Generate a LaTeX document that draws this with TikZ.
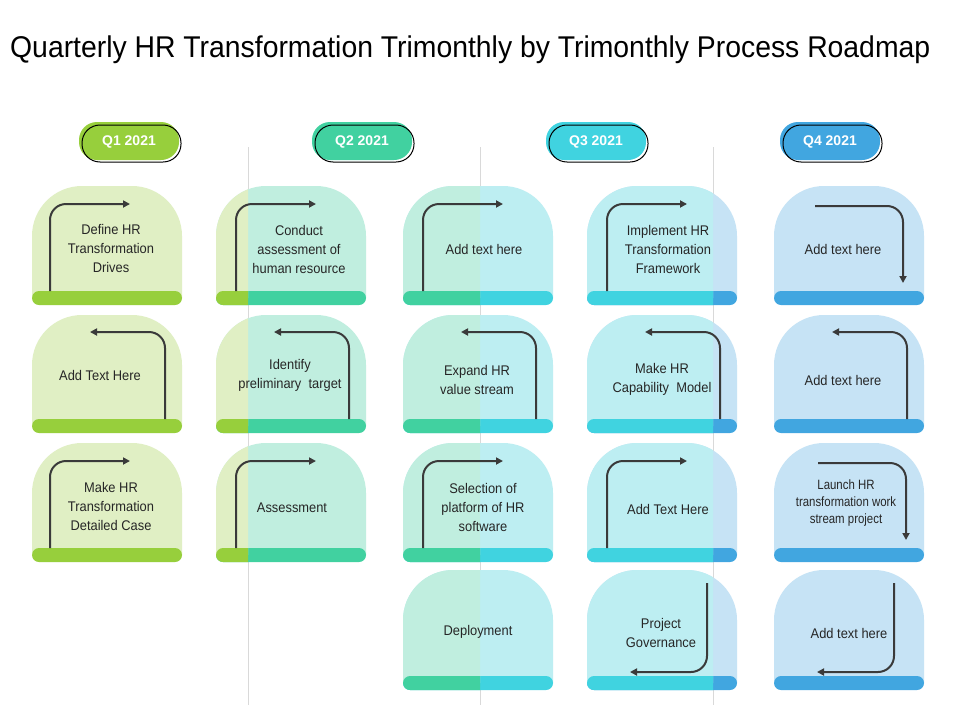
\documentclass[tikz,border=0pt]{standalone}
\usepackage{fontspec}
\setmainfont{Liberation Sans}
\usetikzlibrary{arrows.meta}
\definecolor{gD}{HTML}{97CF3C}\definecolor{gL}{HTML}{E0EFC4}
\definecolor{tD}{HTML}{41D1A0}\definecolor{tL}{HTML}{C0EEDF}
\definecolor{cD}{HTML}{40D3E0}\definecolor{cL}{HTML}{BDEEF2}
\definecolor{bD}{HTML}{41A6E0}\definecolor{bL}{HTML}{C6E3F5}
\definecolor{arr}{HTML}{3A3A3A}
\newcommand\cardshape[5]{% x0 y0 bar light dark
  \fill[#4] (#1,{#3+7}) -- (#1,{#2+50}) arc[start angle=180,end angle=270,radius=50] -- ({#1+100},#2) arc[start angle=270,end angle=360,radius=50] -- ({#1+150},{#3+7}) -- cycle;
  \fill[#5,rounded corners=7] (#1,#3) rectangle ({#1+150},{#3+14});}
\newcommand\card[8]{% x0 y0 bar Ll Ld Rl Rd split
  \cardshape{#1}{#2}{#3}{#6}{#7}
  \begin{scope}\clip (#1,0) rectangle (#8,720);\cardshape{#1}{#2}{#3}{#4}{#5}\end{scope}}
\newcommand\arrA[4]{\draw[ar] ({#1+#4},#3) -- ({#1+#4},{#2+18}) -- ({#1+#4+80},{#2+18});}
\newcommand\arrB[3]{\draw[ar] ({#1+133},#3) -- ({#1+133},{#2+17}) -- ({#1+58},{#2+17});}
\newcommand\arrC[4]{\draw[ar] ({#1+#4},{#2+20}) -- ({#1+#4+88},{#2+20}) -- ({#1+#4+88},{#3-8});}
\newcommand\arrD[3]{\draw[ar] ({#1+120},{#2+13}) -- ({#1+120},{#3-4}) -- ({#1+43},{#3-4});}
\begin{document}
\begin{tikzpicture}[x=1pt,y=-1pt,
  ar/.style={draw=arr,line width=2pt,rounded corners=16,-{Triangle[length=7pt,width=7pt]}},
  lbl/.style={align=center,font=\fontsize{14}{19}\selectfont,text=black!85,xscale=0.92},
  pill/.style={rounded corners=18,line width=1pt}]
\useasboundingbox (0,0) rectangle (960,720);
\fill[white] (0,0) rectangle (960,720);
\node[anchor=west,font=\fontsize{30}{34}\selectfont,xscale=0.945,inner sep=0pt] (title) at (10,50) {Quarterly HR Transformation Trimonthly by Trimonthly Process Roadmap};
\foreach \x in {248,480,713} \draw[black!15,line width=0.8pt] (\x,147) -- (\x,705);
% pills
\foreach \cx/\c/\t [count=\i] in {129/gD/Q1 2021,362/tD/Q2 2021,596/cD/Q3 2021,830/bD/Q4 2021}{
  \fill[\c,pill] ({\cx-50},122) rectangle ({\cx+50},160);
  \draw[black,pill] ({\cx-47},125) rectangle ({\cx+52},162);
  \node[font=\bfseries\fontsize{14}{16}\selectfont,text=white] (q\i) at (\cx,142) {\t};}
% row 1
\def\ya{186}\def\ba{291}
\card{32}{\ya}{\ba}{gL}{gD}{gL}{gD}{32}
\card{216}{\ya}{\ba}{gL}{gD}{tL}{tD}{248}
\card{403}{\ya}{\ba}{tL}{tD}{cL}{cD}{480}
\card{587}{\ya}{\ba}{cL}{cD}{bL}{bD}{713}
\card{774}{\ya}{\ba}{bL}{bD}{bL}{bD}{774}
\arrA{32}{\ya}{\ba}{18}\arrA{216}{\ya}{\ba}{20}\arrA{403}{\ya}{\ba}{20}\arrA{587}{\ya}{\ba}{20}\arrC{774}{\ya}{\ba}{41}
\node[lbl] (t11) at (111,248) {Define HR\\Transformation\\Drives};
\node[lbl] (t12) at (299,249) {Conduct\\assessment of\\human resource};
\node[lbl] (t13) at (484,249) {Add text here};
\node[lbl] (t14) at (668,249) {Implement HR\\Transformation\\Framework};
\node[lbl] (t15) at (843,249) {Add text here};
% row 2
\def\ya{315}\def\ba{419}
\card{32}{\ya}{\ba}{gL}{gD}{gL}{gD}{32}
\card{216}{\ya}{\ba}{gL}{gD}{tL}{tD}{248}
\card{403}{\ya}{\ba}{tL}{tD}{cL}{cD}{480}
\card{587}{\ya}{\ba}{cL}{cD}{bL}{bD}{713}
\card{774}{\ya}{\ba}{bL}{bD}{bL}{bD}{774}
\arrB{32}{\ya}{\ba}\arrB{216}{\ya}{\ba}\arrB{403}{\ya}{\ba}\arrB{587}{\ya}{\ba}\arrB{774}{\ya}{\ba}
\node[lbl] (t21) at (100,375) {Add Text Here};
\node[lbl] (t22) at (290,375) {Identify\\preliminary\ \ target};
\node[lbl] (t23) at (477,380) {Expand HR\\value stream};
\node[lbl] (t24) at (662,379) {Make HR\\Capability\ \ Model};
\node[lbl] (t25) at (843,380) {Add text here};
% row 3
\def\ya{443}\def\ba{548}
\card{32}{\ya}{\ba}{gL}{gD}{gL}{gD}{32}
\card{216}{\ya}{\ba}{gL}{gD}{tL}{tD}{248}
\card{403}{\ya}{\ba}{tL}{tD}{cL}{cD}{480}
\card{587}{\ya}{\ba}{cL}{cD}{bL}{bD}{713}
\card{774}{\ya}{\ba}{bL}{bD}{bL}{bD}{774}
\arrA{32}{\ya}{\ba}{18}\arrA{216}{\ya}{\ba}{20}\arrA{403}{\ya}{\ba}{20}\arrA{587}{\ya}{\ba}{20}\arrC{774}{\ya}{\ba}{44}
\node[lbl] (t31) at (111,506) {Make HR\\Transformation\\Detailed Case};
\node[lbl] (t32) at (292,508) {Assessment};
\node[lbl] (t33) at (483,507) {Selection of\\platform of HR\\software};
\node[lbl] (t34) at (668,509) {Add Text Here};
\node[lbl,font=\fontsize{13.5}{17}\selectfont,xscale=0.92] (t35) at (846,503) {Launch HR\\transformation work\\stream project};
% row 4
\def\ya{570}\def\ba{676}
\card{403}{\ya}{\ba}{tL}{tD}{cL}{cD}{480}
\card{587}{\ya}{\ba}{cL}{cD}{bL}{bD}{713}
\card{774}{\ya}{\ba}{bL}{bD}{bL}{bD}{774}
\arrD{587}{\ya}{\ba}\arrD{774}{\ya}{\ba}
\node[lbl] (t43) at (478,632) {Deployment};
\node[lbl] (t44) at (661,633) {Project\\Governance};
\node[lbl] (t45) at (849,633) {Add text here};
\end{tikzpicture}
\end{document}
